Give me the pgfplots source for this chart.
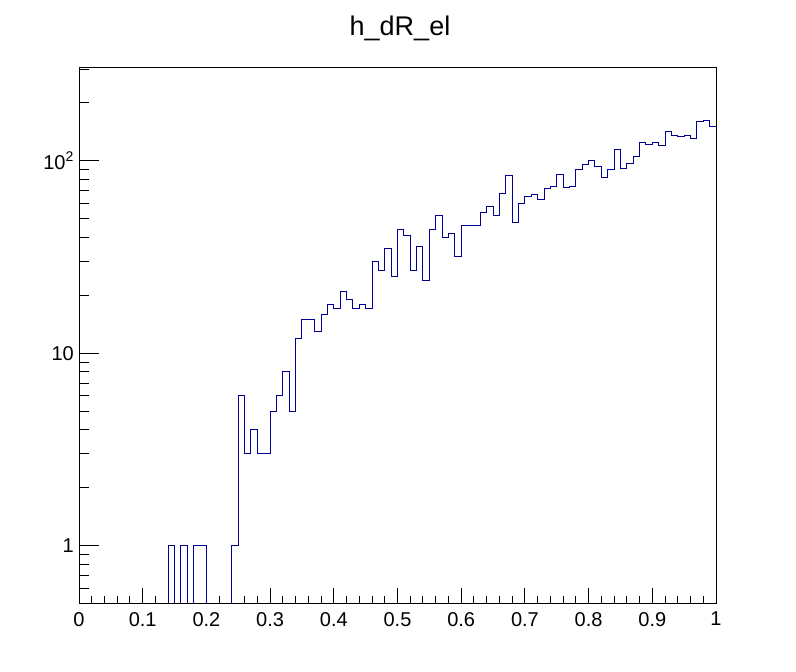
\documentclass[border=0pt]{standalone}
\usepackage{fontspec}
\setmainfont{Liberation Sans}
\usepackage{pgfplots}
\pgfplotsset{compat=1.18}
\definecolor{rootblue}{RGB}{0,0,153}
\begin{document}
\begin{tikzpicture}
\path[use as bounding box] (0pt,0pt) rectangle (796pt,672pt);
\begin{axis}[
  at={(79pt,68pt)}, anchor=south west,
  scale only axis, width=637pt, height=536.7pt,
  xmin=0, xmax=1, ymode=log, ymin=0.4977, ymax=306.5,
  axis line style={line width=1pt, black},
  tick style={line width=1pt, black},
  tick align=inside, tick pos=left,
  tick label style={font=\fontsize{20}{23}\selectfont},
  xtick={0,0.1,0.2,0.3,0.4,0.5,0.6,0.7,0.8,0.9,1},
  xticklabels={0,0.1,0.2,0.3,0.4,0.5,0.6,0.7,0.8,0.9,1},
  minor x tick num=4,
  major tick length=16pt, minor tick length=8pt,
  ytick=\empty,
  xticklabel style={anchor=north, inner sep=0pt, yshift=-8pt},
]
\addplot[const plot mark left, rootblue, line width=1pt] table {
x y
0.00 0.1
0.01 0.1
0.02 0.1
0.03 0.1
0.04 0.1
0.05 0.1
0.06 0.1
0.07 0.1
0.08 0.1
0.09 0.1
0.10 0.1
0.11 0.1
0.12 0.1
0.13 0.1
0.14 1
0.15 0.1
0.16 1
0.17 0.1
0.18 1
0.19 1
0.20 0.1
0.21 0.1
0.22 0.1
0.23 0.1
0.24 1
0.25 6
0.26 3
0.27 4
0.28 3
0.29 3
0.30 5
0.31 6
0.32 8
0.33 5
0.34 12
0.35 15
0.36 15
0.37 13
0.38 16
0.39 18
0.40 17
0.41 21
0.42 19
0.43 17
0.44 18
0.45 17
0.46 30
0.47 27
0.48 35
0.49 25
0.50 44
0.51 41
0.52 27
0.53 36
0.54 24
0.55 44
0.56 52
0.57 40
0.58 42
0.59 32
0.60 46
0.61 46
0.62 46
0.63 54
0.64 58
0.65 52
0.66 68
0.67 84
0.68 48
0.69 60
0.70 65
0.71 67
0.72 63
0.73 72
0.74 74
0.75 85
0.76 73
0.77 74
0.78 90
0.79 96
0.80 100
0.81 93
0.82 82
0.83 90
0.84 114
0.85 91
0.86 97
0.87 105
0.88 125
0.89 122
0.90 124
0.91 120
0.92 142
0.93 136
0.94 134
0.95 136
0.96 131
0.97 160
0.98 162
0.99 151
1.00 151
};
\end{axis}
\begin{axis}[
  at={(79pt,68pt)}, anchor=south west,
  scale only axis, width=637pt, height=536.7pt,
  xmin=0, xmax=1, ymode=log, ymin=0.4977, ymax=306.5,
  axis line style={line width=1pt, black},
  tick style={line width=1pt, black},
  tick align=inside, tick pos=left,
  tick label style={font=\fontsize{20}{23}\selectfont},
  xtick=\empty,
  ytick={1,10,100},
  yticklabels={1,10,10\textsuperscript{2}},
  minor ytick={0.6,0.7,0.8,0.9,2,3,4,5,6,7,8,9,20,30,40,50,60,70,80,90,200,300},
  major tick length=20pt, minor tick length=10pt,
  yticklabel style={anchor=east, inner sep=0pt, xshift=-5pt},
]
\addplot[draw=none] coordinates {(0.5,1) (0.6,10)};
\end{axis}
\node[anchor=base, font=\fontsize{27}{30}\selectfont, inner sep=0pt] at (400pt,636pt) {h\_dR\_el};
\end{tikzpicture}
\end{document}
